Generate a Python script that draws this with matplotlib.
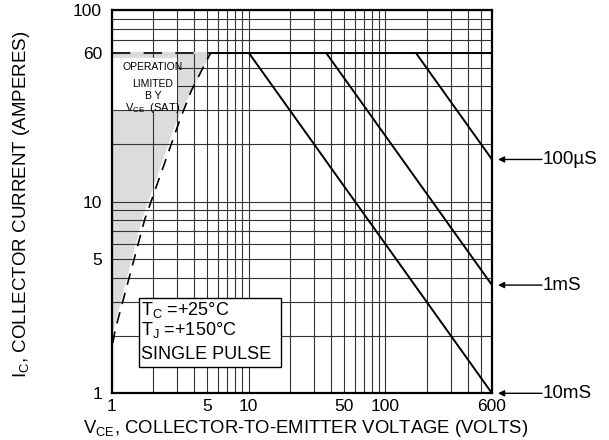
import matplotlib
matplotlib.use("Agg")
import matplotlib.pyplot as plt
import matplotlib.transforms as mtransforms
from matplotlib.patches import Polygon, Rectangle

plt.rcParams['font.family'] = ['Liberation Sans', 'DejaVu Sans']
plt.rcParams['mathtext.fontset'] = 'custom'
plt.rcParams['mathtext.rm'] = 'Liberation Sans'
plt.rcParams['mathtext.it'] = 'Liberation Sans'
plt.rcParams['mathtext.default'] = 'regular'

# ---- data ----
x_ticks = [1, 5, 10, 50, 100, 600]
x_tick_labels = ['1', '5', '10', '50', '100', '600']
y_ticks = [1, 5, 10, 60, 100]
y_tick_labels = ['1', '5', '10', '60', '100']
x_grid = [1, 2, 3, 4, 5, 6, 7, 8, 9, 10, 20, 30, 40, 50, 60, 70, 80, 90, 100,
          200, 300, 400, 500, 600]
y_grid = [1, 2, 3, 4, 5, 6, 7, 8, 9, 10, 20, 30, 40, 50, 60, 70, 80, 90, 100]

i_max = 60            # current limit (A)
v_max = 600           # voltage limit (V)
pulse_labels = ['100µS', '1mS', '10mS']
pulse_v_start = [166, 36.7, 10]     # V where each pulse line leaves 60 A
pulse_i_end = [16.6, 3.67, 1.0]     # I at 600 V

vce_sat_v = [1.02, 1.06, 1.74, 3.14, 3.82, 5.3]
vce_sat_i = [1.83, 2.14, 8.05, 26.6, 38.0, 60]

shade_v = [1.0, 1.0, 5.3, 3.0, 1.66, 1.0]
shade_i = [1.95, 60, 60, 26.6, 8.05, 1.95]

# ---- figure ----
W, H = 609, 440
fig = plt.figure(figsize=(W / 100, H / 100), dpi=100)
x0, x1, yt, yb = 111.7, 492.0, 10.0, 393.3
ax = fig.add_axes([x0 / W, 1 - yb / H, (x1 - x0) / W, (yb - yt) / H])
ax.set_xscale('log')
ax.set_yscale('log')
ax.set_xlim(1, 600)
ax.set_ylim(1, 100)

ax.set_xticks(x_grid, minor=True)
ax.set_yticks(y_grid, minor=True)
ax.set_xticks(x_ticks)
ax.set_xticklabels(x_tick_labels)
ax.set_yticks(y_ticks)
ax.set_yticklabels(y_tick_labels)
ax.tick_params(which='both', length=0, labelsize=12.5)
ax.tick_params(axis='x', pad=4)
ax.tick_params(axis='y', pad=7)
ax.xaxis.set_minor_formatter(matplotlib.ticker.NullFormatter())
ax.yaxis.set_minor_formatter(matplotlib.ticker.NullFormatter())
ax.grid(True, which='both', color='#333333', lw=0.8)

for s in ax.spines.values():
    s.set_linewidth(1.6)
    s.set_zorder(6)

# shaded region
ax.add_patch(Polygon(list(zip(shade_v, shade_i)), closed=True,
                     fc='#dcdcdc', ec='none', zorder=1))
# hide 60 A grid line in the shaded region
ax.plot([1, vce_sat_v[-1]], [i_max, i_max], color='#dcdcdc', lw=1.6, zorder=1.7)
# white text box region
ax.add_patch(Rectangle((1, 30), 2, 26, fc='white', ec='none', zorder=2.5))

# dashed limits
ax.plot([1, vce_sat_v[-1]], [i_max, i_max], color='black', lw=1.2,
        ls=(0, (11, 8)), zorder=3)
ax.plot(vce_sat_v, vce_sat_i, color='black', lw=1.2, ls=(0, (7, 5)), zorder=3)
# solid current limit
ax.plot([vce_sat_v[-1], v_max], [i_max, i_max], color='black', lw=1.4, zorder=3)
# pulse lines
for vs, ie in zip(pulse_v_start, pulse_i_end):
    ax.plot([vs, v_max], [i_max, ie], color='black', lw=1.4, zorder=3,
            solid_capstyle='butt')

ax.text(2.0, 50.5, 'OPERATION', ha='center', va='center', fontsize=7.5, zorder=4)
ax.text(2.0, 41.0, 'LIMITED', ha='center', va='center', fontsize=7.5, zorder=4)
ax.text(2.0, 35.5, 'B Y', ha='center', va='center', fontsize=7.5, zorder=4)
ax.text(2.0, 30.8, r'$\mathregular{V_{CE}}$  (SAT)', ha='center', va='center',
        fontsize=8, zorder=4)

# condition box
ax.add_patch(Rectangle((1.58, 1.37), 17.3 - 1.58, 3.14 - 1.37, fc='white',
                       ec='black', lw=1.0, zorder=4))
ax.text(1.64, 2.72, r'$\mathregular{T_C}$ =+25°C', ha='left', va='center',
        fontsize=13, zorder=5)
ax.text(1.64, 2.13, r'$\mathregular{T_J}$ =+150°C', ha='left', va='center',
        fontsize=13, zorder=5)
ax.text(1.64, 1.6, 'SINGLE PULSE', ha='left', va='center', fontsize=13, zorder=5)

# arrows with labels
tr = mtransforms.blended_transform_factory(fig.transFigure, ax.transData)
for lab, ie in zip(pulse_labels, pulse_i_end):
    ax.annotate('', xy=(498 / W, ie), xycoords=tr, xytext=(542 / W, ie),
                textcoords=tr,
                arrowprops=dict(arrowstyle='-|>', color='black', lw=1.0,
                                mutation_scale=9, shrinkA=0, shrinkB=0),
                annotation_clip=False)
    ax.text(543 / W, ie, lab, transform=tr, ha='left', va='center',
            fontsize=13.5, clip_on=False)

fig.text(22 / W, 1 - 204 / H, r'$\mathregular{I_C}$, COLLECTOR CURRENT (AMPERES)',
         rotation=90, ha='center', va='center', fontsize=13.5)
fig.text(306 / W, 1 - 428 / H,
         r'$\mathregular{V_{CE}}$, COLLECTOR-TO-EMITTER VOLTAGE (VOLTS)',
         ha='center', va='center', fontsize=13.3)

fig.savefig('out.png', dpi=100)
